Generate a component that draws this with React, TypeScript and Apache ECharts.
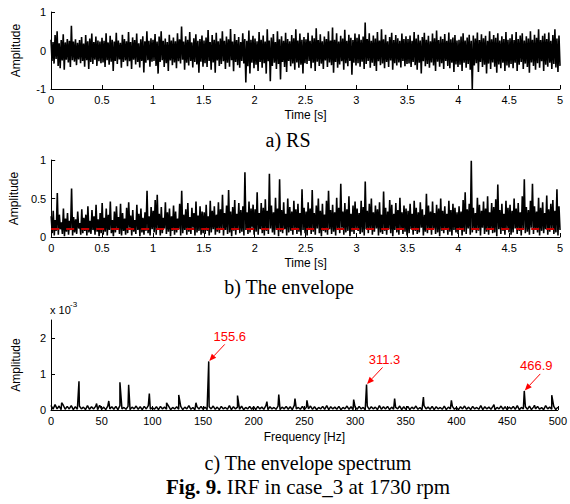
import React, { useEffect, useRef } from "react";
import * as echarts from "echarts";

const FONT = "'Liberation Sans', Arial, sans-serif";
const SERIF = "'Liberation Serif', 'Times New Roman', serif";

// a) RS: alternating positive / negative excursions (0..5 s)
const rsUpper = [
  0.28,0.22,0.40,0.50,0.19,0.27,0.42,0.21,0.30,0.25,0.64,0.23,0.29,0.20,0.27,0.35,0.18,0.40,0.24,0.31,0.44,0.22,0.36,0.26,0.23,
  0.33,0.25,0.45,0.21,0.38,0.28,0.23,0.46,0.26,0.20,0.41,0.30,0.24,0.48,0.22,0.34,0.27,0.44,0.19,0.29,0.37,0.24,0.50,0.25,0.32,
  0.28,0.43,0.23,0.36,0.50,0.25,0.31,0.22,0.41,0.26,0.34,0.24,0.45,0.29,0.62,0.23,0.37,0.28,0.48,0.21,0.32,0.42,0.25,0.30,0.39,
  0.26,0.34,0.53,0.22,0.40,0.28,0.46,0.24,0.31,0.50,0.25,0.36,0.29,0.56,0.23,0.43,0.27,0.35,0.22,0.45,0.30,0.25,0.52,0.28,0.38,
  0.31,0.24,0.48,0.28,0.39,0.23,0.55,0.26,0.34,0.43,0.22,0.50,0.29,0.37,0.25,0.46,0.30,0.24,0.40,0.32,0.55,0.26,0.44,0.28,0.35,
  0.29,0.46,0.25,0.39,0.32,0.58,0.27,0.42,0.24,0.36,0.30,0.50,0.26,0.60,0.28,0.45,0.23,0.38,0.31,0.54,0.25,0.41,0.33,0.27,0.44,
  0.33,0.42,0.28,0.36,0.73,0.30,0.45,0.25,0.39,0.31,0.48,0.26,0.55,0.29,0.41,0.24,0.35,0.46,0.27,0.40,0.32,0.25,0.44,0.30,0.37,
  0.30,0.39,0.25,0.48,0.31,0.41,0.26,0.35,0.46,0.28,0.38,0.24,0.44,0.32,0.52,0.27,0.36,0.30,0.43,0.25,0.47,0.29,0.34,0.40,0.26,
  0.28,0.36,0.45,0.26,0.34,0.41,0.25,0.39,0.31,0.47,0.27,0.42,0.32,0.38,0.25,0.50,0.29,0.40,0.33,0.45,0.26,0.37,0.30,0.48,0.28,
  0.32,0.42,0.27,0.48,0.30,0.39,0.45,0.26,0.37,0.31,0.50,0.28,0.41,0.33,0.55,0.27,0.38,0.44,0.30,0.47,0.25,0.40,0.55,0.31,0.39,
];
const rsLower = [
  -0.27,-0.34,-0.22,-0.40,-0.46,-0.26,-0.50,-0.24,-0.31,-0.43,-0.25,-0.29,-0.38,-0.23,-0.33,-0.27,-0.42,-0.25,-0.48,-0.30,-0.35,-0.24,-0.40,-0.28,-0.33,
  -0.31,-0.43,-0.25,-0.37,-0.29,-0.53,-0.27,-0.35,-0.23,-0.45,-0.30,-0.26,-0.41,-0.28,-0.48,-0.24,-0.36,-0.30,-0.44,-0.27,-0.57,-0.32,-0.25,-0.42,-0.29,
  -0.27,-0.40,-0.60,-0.30,-0.25,-0.43,-0.33,-0.53,-0.26,-0.38,-0.31,-0.46,-0.28,-0.34,-0.24,-0.50,-0.32,-0.39,-0.27,-0.44,-0.30,-0.36,-0.58,-0.29,-0.42,
  -0.33,-0.43,-0.27,-0.50,-0.31,-0.58,-0.26,-0.40,-0.35,-0.28,-0.48,-0.32,-0.42,-0.25,-0.54,-0.30,-0.38,-0.45,-0.27,-0.34,-0.83,-0.41,-0.60,-0.32,-0.46,
  -0.37,-0.53,-0.30,-0.45,-0.33,-0.60,-0.28,-0.80,-0.40,-0.32,-0.48,-0.35,-0.75,-0.30,-0.43,-0.56,-0.27,-0.41,-0.34,-0.50,-0.31,-0.45,-0.37,-0.60,-0.33,
  -0.35,-0.27,-0.46,-0.32,-0.53,-0.29,-0.40,-0.34,-0.48,-0.26,-0.43,-0.31,-0.38,-0.58,-0.30,-0.45,-0.36,-0.28,-0.50,-0.33,-0.41,-0.27,-0.63,-0.32,-0.39,
  -0.33,-0.42,-0.29,-0.48,-0.35,-0.27,-0.45,-0.32,-0.40,-0.53,-0.28,-0.38,-0.34,-0.46,-0.30,-0.43,-0.26,-0.50,-0.33,-0.39,-0.31,-0.44,-0.27,-0.41,-0.35,
  -0.34,-0.43,-0.30,-0.38,-0.50,-0.32,-0.60,-0.28,-0.41,-0.35,-0.45,-0.31,-0.39,-0.53,-0.29,-0.42,-0.33,-0.48,-0.27,-0.40,-0.46,-0.32,-0.56,-0.36,-0.43,
  -0.37,-0.53,-0.32,-0.45,-0.35,-0.50,-1.00,-0.39,-0.33,-0.56,-0.30,-0.43,-0.37,-0.60,-0.34,-0.48,-0.31,-0.42,-0.58,-0.36,-0.46,-0.32,-0.53,-0.39,-0.44,
  -0.35,-0.46,-0.32,-0.53,-0.37,-0.30,-0.48,-0.34,-0.43,-0.58,-0.31,-0.40,-0.50,-0.33,-0.45,-0.28,-0.53,-0.37,-0.42,-0.32,-0.48,-0.35,-0.44,-0.56,-0.40,
];

// b) envelope: peaks and troughs (0..5 s)
const envHigh = [
  0.27,0.34,0.22,0.57,0.29,0.19,0.37,0.24,0.31,0.21,0.63,0.26,0.23,0.33,0.18,0.36,0.25,0.29,0.40,0.21,0.35,0.27,0.42,0.23,0.31,
  0.44,0.25,0.37,0.29,0.46,0.22,0.33,0.40,0.26,0.43,0.31,0.24,0.38,0.45,0.28,0.35,0.22,0.42,0.30,0.37,0.25,0.32,0.60,0.27,0.39,
  0.34,0.48,0.55,0.30,0.39,0.25,0.45,0.32,0.37,0.27,0.41,0.33,0.24,0.43,0.60,0.29,0.36,0.44,0.26,0.38,0.31,0.46,0.28,0.40,0.33,
  0.32,0.42,0.27,0.47,0.34,0.40,0.29,0.45,0.36,0.55,0.31,0.41,0.61,0.33,0.39,0.48,0.30,0.44,0.35,0.40,0.84,0.32,0.46,0.37,0.42,
  0.36,0.58,0.31,0.44,0.38,0.49,0.34,0.82,0.41,0.32,0.51,0.37,0.75,0.35,0.45,0.30,0.50,0.39,0.33,0.47,0.36,0.43,0.31,0.62,0.38,
  0.33,0.45,0.37,0.61,0.31,0.41,0.50,0.34,0.43,0.29,0.47,0.60,0.35,0.42,0.32,0.51,0.38,0.69,0.33,0.44,0.36,0.53,0.30,0.41,0.46,
  0.37,0.31,0.47,0.39,0.72,0.34,0.43,0.50,0.32,0.41,0.36,0.45,0.29,0.59,0.38,0.33,0.48,0.42,0.30,0.44,0.35,0.51,0.32,0.41,0.37,
  0.34,0.43,0.30,0.47,0.38,0.32,0.45,0.36,0.29,0.56,0.41,0.33,0.46,0.31,0.42,0.37,0.50,0.34,0.40,0.30,0.47,0.35,0.43,0.38,0.32,
  0.40,0.33,0.48,0.58,0.36,0.43,0.99,0.38,0.31,0.51,0.42,0.34,0.46,0.37,0.53,0.32,0.44,0.39,0.49,0.68,0.35,0.43,0.30,0.47,0.38,
  0.42,0.34,0.50,0.37,0.44,0.32,0.53,0.75,0.39,0.35,0.47,0.69,0.40,0.33,0.51,0.38,0.45,0.31,0.54,0.36,0.43,0.48,0.34,0.62,0.40,
];
const envLow = [
  0.05,0.02,0.08,0.03,0.10,0.04,0.01,0.07,0.03,0.09,0.02,0.06,0.04,0.11,0.03,0.05,0.08,0.02,0.06,0.04,0.09,0.03,0.07,0.01,0.05,
  0.03,0.07,0.02,0.09,0.05,0.01,0.06,0.10,0.04,0.02,0.08,0.03,0.05,0.12,0.02,0.07,0.04,0.09,0.01,0.06,0.03,0.08,0.05,0.02,0.10,
  0.06,0.03,0.09,0.02,0.05,0.11,0.04,0.07,0.01,0.08,0.03,0.06,0.10,0.02,0.05,0.09,0.03,0.07,0.04,0.12,0.02,0.06,0.08,0.03,0.05,
  0.04,0.08,0.02,0.06,0.10,0.03,0.07,0.05,0.11,0.02,0.09,0.04,0.06,0.01,0.08,0.03,0.10,0.05,0.07,0.02,0.09,0.04,0.06,0.12,0.03,
  0.07,0.03,0.10,0.05,0.02,0.08,0.04,0.11,0.06,0.03,0.09,0.01,0.07,0.05,0.10,0.02,0.06,0.08,0.03,0.11,0.04,0.07,0.02,0.09,0.05,
  0.02,0.09,0.04,0.07,0.03,0.11,0.05,0.01,0.08,0.06,0.03,0.10,0.04,0.07,0.02,0.09,0.05,0.12,0.03,0.06,0.08,0.01,0.07,0.04,0.10,
  0.08,0.04,0.06,0.02,0.10,0.05,0.09,0.03,0.07,0.11,0.02,0.06,0.04,0.08,0.03,0.10,0.05,0.01,0.09,0.06,0.03,0.11,0.04,0.07,0.02,
  0.05,0.10,0.03,0.08,0.04,0.06,0.12,0.02,0.07,0.05,0.09,0.03,0.11,0.04,0.06,0.01,0.08,0.05,0.10,0.03,0.07,0.02,0.09,0.06,0.04,
  0.09,0.02,0.07,0.04,0.11,0.03,0.06,0.10,0.05,0.08,0.02,0.12,0.04,0.07,0.03,0.09,0.05,0.06,0.01,0.10,0.04,0.08,0.03,0.11,0.06,
  0.03,0.06,0.11,0.04,0.08,0.02,0.10,0.05,0.07,0.03,0.12,0.04,0.09,0.06,0.02,0.08,0.05,0.10,0.03,0.07,0.11,0.04,0.06,0.02,0.09,
];
const envThreshold = 0.11;

// c) envelope spectrum (x 10^-3): noise floor every 2 Hz, 0..500 Hz
const specFloor = [
  0.13,0.02,0.15,0.03,0.11,0.01,0.14,0.02,0.10,0.03,0.12,0.01,0.09,0.02,0.11,0.03,0.08,0.01,0.12,0.02,0.09,0.03,0.10,0.01,0.13,
  0.02,0.08,0.01,0.11,0.03,0.09,0.02,0.10,0.01,0.12,0.03,0.07,0.02,0.10,0.01,0.08,0.03,0.11,0.02,0.09,0.01,0.10,0.03,0.12,0.02,
  0.07,0.02,0.09,0.01,0.10,0.03,0.08,0.02,0.11,0.01,0.07,0.03,0.09,0.02,0.10,0.01,0.08,0.03,0.12,0.02,0.07,0.01,0.09,0.03,0.10,
  0.02,0.08,0.01,0.09,0.03,0.11,0.02,0.08,0.01,0.10,0.03,0.07,0.02,0.12,0.01,0.09,0.03,0.08,0.02,0.11,0.01,0.07,0.03,0.10,0.02,
  0.09,0.01,0.10,0.03,0.08,0.02,0.12,0.01,0.09,0.03,0.07,0.02,0.11,0.01,0.08,0.03,0.10,0.02,0.09,0.01,0.13,0.03,0.07,0.02,0.10,
  0.01,0.08,0.03,0.11,0.02,0.09,0.01,0.07,0.03,0.10,0.02,0.12,0.01,0.09,0.03,0.08,0.02,0.10,0.01,0.07,0.03,0.11,0.02,0.09,0.01,
  0.08,0.02,0.10,0.03,0.07,0.01,0.11,0.02,0.09,0.03,0.08,0.01,0.12,0.02,0.09,0.03,0.10,0.01,0.08,0.02,0.07,0.03,0.11,0.01,0.09,
  0.02,0.10,0.01,0.08,0.03,0.11,0.02,0.07,0.01,0.12,0.03,0.08,0.02,0.10,0.01,0.09,0.03,0.07,0.02,0.11,0.01,0.08,0.03,0.10,0.02,
  0.07,0.01,0.09,0.03,0.11,0.02,0.08,0.01,0.10,0.03,0.07,0.02,0.12,0.01,0.09,0.03,0.08,0.02,0.10,0.01,0.07,0.03,0.11,0.02,0.09,
  0.01,0.08,0.03,0.10,0.02,0.12,0.01,0.07,0.03,0.09,0.02,0.11,0.01,0.08,0.03,0.10,0.02,0.07,0.01,0.12,0.03,0.08,0.02,0.10,0.01,
  0.08,
];
const peakFreq = [10.5, 27.6, 45, 57, 68, 76.6, 97, 114, 126, 143, 155.6, 184, 213, 224.7, 240.7, 252.5, 298.6, 311.3, 339, 367.4, 395, 437, 466.9, 477, 494];
const peakAmp = [0.2, 0.8, 0.18, 0.25, 0.77, 0.7, 0.46, 0.2, 0.42, 0.2, 1.35, 0.4, 0.23, 0.43, 0.32, 0.27, 0.29, 0.71, 0.32, 0.36, 0.27, 0.15, 0.53, 0.13, 0.41];
const labeledPeaks = [155.6, 311.3, 466.9];
const labelDx = [21, 18, 12];

const timeTicks = { min: 0, max: 5, interval: 0.5 };
const freqTicks = { min: 0, max: 500, interval: 50 };

function buildTimeSeries(a: number[], b: number[]) {
  const n = a.length * 2;
  const out: number[][] = [];
  for (let i = 0; i < a.length; i++) {
    out.push([((2 * i) * 5) / (n - 1), a[i]]);
    out.push([((2 * i + 1) * 5) / (n - 1), b[i]]);
  }
  return out;
}

function buildSpectrum() {
  const pts: number[][] = specFloor.map((v, i) => [i * 2, v]);
  peakFreq.forEach((f, i) => pts.push([f, peakAmp[i]]));
  pts.sort((p, q) => p[0] - q[0]);
  return pts;
}

const axisCommon = {
  axisLine: { show: true, onZero: false, lineStyle: { color: "#000", width: 1 } },
  axisTick: { show: true, inside: true, length: 4, lineStyle: { color: "#000", width: 1 } },
  axisLabel: { color: "#000", fontSize: 11, fontFamily: FONT, margin: 5 },
  splitLine: { show: false },
  nameTextStyle: { color: "#000", fontSize: 12, fontFamily: FONT },
};

export default function App() {
  const ref = useRef<HTMLDivElement>(null);
  useEffect(() => {
    if (!ref.current) return;
    const chart = echarts.init(ref.current, undefined, { renderer: "svg" });
    const lineStyle = { color: "#000", width: 1.6 };
    chart.setOption({
      animation: false,
      backgroundColor: "#fff",
      grid: [
        { left: 51, top: 12, width: 509, height: 77 },
        { left: 51, top: 160, width: 509, height: 77 },
        { left: 51, top: 320, width: 509, height: 90 },
      ],
      xAxis: [
        { ...axisCommon, type: "value", gridIndex: 0, ...timeTicks, name: "Time [s]", nameLocation: "middle", nameGap: 20 },
        { ...axisCommon, type: "value", gridIndex: 1, ...timeTicks, name: "Time [s]", nameLocation: "middle", nameGap: 20 },
        { ...axisCommon, type: "value", gridIndex: 2, ...freqTicks, name: "Frequency [Hz]", nameLocation: "middle", nameGap: 21 },
      ],
      yAxis: [
        { ...axisCommon, type: "value", gridIndex: 0, min: -1, max: 1, interval: 1, name: "Amplitude", nameLocation: "middle", nameGap: 29 },
        { ...axisCommon, type: "value", gridIndex: 1, min: 0, max: 1, interval: 0.5, name: "Amplitude", nameLocation: "middle", nameGap: 29 },
        {
          ...axisCommon, type: "value", gridIndex: 2, min: 0, max: 2.5, interval: 1, name: "Amplitude", nameLocation: "middle", nameGap: 29,
          axisLabel: { ...axisCommon.axisLabel, customValues: [0, 1, 2] },
          axisTick: { ...axisCommon.axisTick, customValues: [0, 1, 2] },
        },
      ],
      series: [
        { type: "line", xAxisIndex: 0, yAxisIndex: 0, data: buildTimeSeries(rsUpper, rsLower), symbol: "none", lineStyle, silent: true },
        {
          type: "line", xAxisIndex: 1, yAxisIndex: 1, data: buildTimeSeries(envHigh, envLow), symbol: "none", lineStyle, silent: true,
          markLine: {
            silent: true, symbol: "none", label: { show: false },
            lineStyle: { color: "#c00000", type: [8, 7], width: 2 },
            data: [{ yAxis: envThreshold }],
          },
        },
        { type: "line", xAxisIndex: 2, yAxisIndex: 2, data: buildSpectrum(), symbol: "none", lineStyle: { color: "#000", width: 1.5 }, silent: true },
      ],
    });

    const graphics: any[] = [];
    labeledPeaks.forEach((f, k) => {
      const amp = peakAmp[peakFreq.indexOf(f)];
      const p = chart.convertToPixel({ gridIndex: 2 } as any, [f, amp]) as number[];
      const px = p[0], py = p[1];
      const sx = px + 16, sy = py - 17;
      const tx = px + 0.5, ty = py - 0.5;
      const dx = tx - sx, dy = ty - sy;
      const len = Math.sqrt(dx * dx + dy * dy);
      const ux = dx / len, uy = dy / len;
      const bx = tx - ux * 7, by = ty - uy * 7;
      const nx = -uy, ny = ux;
      graphics.push({ type: "line", silent: true, shape: { x1: sx, y1: sy, x2: bx, y2: by }, style: { stroke: "#ff0000", lineWidth: 1 } });
      graphics.push({
        type: "polygon", silent: true,
        shape: { points: [[tx, ty], [bx + nx * 3, by + ny * 3], [bx - nx * 3, by - ny * 3]] },
        style: { fill: "#ff0000" },
      });
      graphics.push({
        type: "text", silent: true, x: px + labelDx[k], y: py - 25,
        style: { text: String(f), fill: "#ff0000", fontSize: 13, fontFamily: FONT, align: "center", verticalAlign: "middle" },
      });
    });
    graphics.push({ type: "text", silent: true, x: 50, y: 310, style: { text: "x 10", fill: "#000", fontSize: 11, fontFamily: FONT, align: "left", verticalAlign: "middle" } });
    graphics.push({ type: "text", silent: true, x: 70, y: 304, style: { text: "-3", fill: "#000", fontSize: 8, fontFamily: FONT, align: "left", verticalAlign: "middle" } });
    const cap = (text: string, x: number, y: number) => ({
      type: "text", silent: true, x, y,
      style: { text, fill: "#000", fontSize: 20, fontFamily: SERIF, align: "center", verticalAlign: "middle" },
    });
    graphics.push(cap("a) RS", 288, 140));
    graphics.push(cap("b) The envelope", 289, 287));
    graphics.push(cap("c) The envelope spectrum", 308, 463));
    graphics.push({
      type: "text", silent: true, x: 308, y: 487,
      style: {
        text: "{b|Fig. 9.}{n| IRF in case_3 at 1730 rpm}", fill: "#000", align: "center", verticalAlign: "middle",
        rich: {
          b: { fontSize: 21, fontFamily: SERIF, fontWeight: "bold", fill: "#000" },
          n: { fontSize: 21, fontFamily: SERIF, fill: "#000" },
        },
      },
    });
    chart.setOption({ graphic: graphics });

    return () => chart.dispose();
  }, []);
  return (
    <div
      ref={ref}
      style={{ position: "fixed", left: 0, top: 0, width: 570, height: 504, background: "#fff" }}
    />
  );
}
